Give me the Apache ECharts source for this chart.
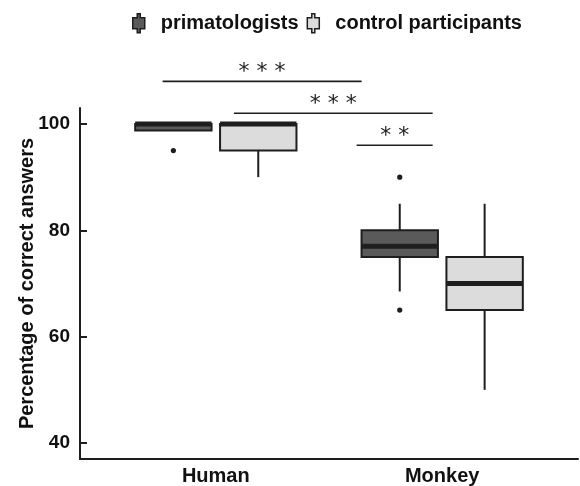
<!DOCTYPE html>
<html>
<head>
<meta charset="utf-8">
<script src="https://cdn.jsdelivr.net/npm/echarts@6/dist/echarts.min.js"></script>
<style>
  html, body { margin: 0; padding: 0; background: #fff; }
  #chart { width: 580px; height: 486px; }
</style>
</head>
<body>
<div id="chart"></div>
<script>
// categories on the x axis
var categories = ['Human', 'Monkey'];
var groups = ['primatologists', 'control participants'];
// [lower whisker, Q1, median, Q3, upper whisker] per category
var primatologistBoxes = [[98.75, 98.75, 100, 100, 100], [68.5, 75, 77, 80, 85]];
var controlBoxes = [[90, 95, 100, 100, 100], [50, 65, 70, 75, 85]];
// outliers: [category index, value]
var primatologistOutliers = [[0, 95], [1, 90], [1, 65]];
var controlOutliers = [];
var yTicks = [40, 60, 80, 100];
// significance bars: [from, to, level] in axis units
var sigBars = [[0.765, 1.644, 108], [1.08, 1.958, 102], [1.622, 1.958, 96]];
var sigLabels = ['* * *', '* * *', '* *'];

var colors = ['#5a5a5a', '#dcdcdc'];
var ink = '#1e1e1e';
var font = '"Liberation Sans", Arial, sans-serif';

var dodge = [-0.1875, 0.1875];
var halfBox = 0.16875;

function boxRenderer(offset, fill) {
    return function (params, api) {
        var x = api.value(0);
        var bw = api.size([1, 0])[0];
        var cx = api.coord([x, 0])[0] + offset * bw;
        var hw = halfBox * bw;
        var yMin = api.coord([x, api.value(1)])[1];
        var yQ1 = api.coord([x, api.value(2)])[1];
        var yMed = api.coord([x, api.value(3)])[1];
        var yQ3 = api.coord([x, api.value(4)])[1];
        var yMax = api.coord([x, api.value(5)])[1];
        var line = { stroke: ink, lineWidth: 2 };
        return {
            type: 'group',
            children: [
                { type: 'line', shape: { x1: cx, y1: yMax, x2: cx, y2: yQ3 }, style: line },
                { type: 'line', shape: { x1: cx, y1: yQ1, x2: cx, y2: yMin }, style: line },
                { type: 'rect', shape: { x: cx - hw, y: yQ3, width: hw * 2, height: yQ1 - yQ3 },
                  style: { fill: fill, stroke: ink, lineWidth: 2 } },
                { type: 'line', shape: { x1: cx - hw, y1: yMed, x2: cx + hw, y2: yMed },
                  style: { stroke: ink, lineWidth: 5 } }
            ]
        };
    };
}

function outlierRenderer(offset) {
    return function (params, api) {
        var x = api.value(0);
        var bw = api.size([1, 0])[0];
        var p = api.coord([x, api.value(1)]);
        return {
            type: 'circle',
            shape: { cx: p[0] + offset * bw, cy: p[1], r: 2.6 },
            style: { fill: ink }
        };
    };
}

function boxData(boxes) {
    return boxes.map(function (b, i) { return [i + 1].concat(b); });
}
function outlierData(list) {
    return list.map(function (o) { return [o[0] + 1, o[1]]; });
}

var chart = echarts.init(document.getElementById('chart'));
chart.setOption({
    animation: false,
    legend: {
        data: groups,
        left: 127,
        top: 8,
        itemWidth: 12,
        itemHeight: 19,
        itemGap: 8,
        icon: 'path://M4.5,0 L7.5,0 L7.5,4 L12,4 L12,15 L7.5,15 L7.5,19 L4.5,19 L4.5,15 L0,15 L0,4 L4.5,4 Z',
        itemStyle: { borderColor: ink, borderWidth: 1.5 },
        textStyle: { fontFamily: font, fontWeight: 'bold', fontSize: 20, color: '#111', padding: [0, 0, 0, 11] }
    },
    grid: { left: 80, right: 2, top: 108, bottom: 27 },
    xAxis: {
        type: 'value',
        min: 0.4,
        max: 2.6,
        axisLine: { show: true, lineStyle: { color: ink, width: 2 } },
        axisTick: { show: false },
        splitLine: { show: false },
        axisLabel: {
            customValues: [1, 2],
            formatter: function (v) { return categories[Math.round(v) - 1]; },
            margin: 7,
            fontFamily: font, fontWeight: 'bold', fontSize: 20, color: '#111'
        }
    },
    yAxis: {
        type: 'value',
        min: 37,
        max: 103,
        name: 'Percentage of correct answers',
        nameLocation: 'middle',
        nameGap: 43,
        nameMoveOverlap: false,
        nameTextStyle: { fontFamily: font, fontWeight: 'bold', fontSize: 20, color: '#111' },
        axisLine: { show: true, lineStyle: { color: ink, width: 2 } },
        axisTick: { show: true, inside: true, length: 7, customValues: yTicks, lineStyle: { color: ink, width: 2 } },
        splitLine: { show: false },
        axisLabel: {
            customValues: yTicks,
            margin: 10,
            fontFamily: font, fontWeight: 'bold', fontSize: 19, color: '#111'
        }
    },
    series: [
        {
            name: groups[0], type: 'custom',
            itemStyle: { color: colors[0] },
            renderItem: boxRenderer(dodge[0], colors[0]),
            encode: { x: 0, y: [1, 2, 3, 4, 5] },
            data: boxData(primatologistBoxes)
        },
        {
            name: groups[1], type: 'custom',
            itemStyle: { color: colors[1] },
            renderItem: boxRenderer(dodge[1], colors[1]),
            encode: { x: 0, y: [1, 2, 3, 4, 5] },
            data: boxData(controlBoxes)
        },
        {
            name: groups[0], type: 'custom',
            itemStyle: { color: colors[0] },
            renderItem: outlierRenderer(dodge[0]),
            encode: { x: 0, y: 1 },
            data: outlierData(primatologistOutliers)
        },
        {
            name: groups[1], type: 'custom',
            itemStyle: { color: colors[1] },
            renderItem: outlierRenderer(dodge[1]),
            encode: { x: 0, y: 1 },
            data: outlierData(controlOutliers)
        },
        {
            name: 'significance', type: 'custom',
            clip: false,
            renderItem: function (params, api) {
                var a = api.coord([api.value(0), api.value(2)]);
                var b = api.coord([api.value(1), api.value(2)]);
                return {
                    type: 'group',
                    children: [
                        { type: 'line', shape: { x1: a[0], y1: a[1], x2: b[0], y2: b[1] },
                          style: { stroke: ink, lineWidth: 1.6 } },
                        { type: 'text',
                          style: { x: (a[0] + b[0]) / 2, y: a[1] + 2, text: sigLabels[params.dataIndex],
                                   align: 'center', verticalAlign: 'bottom',
                                   font: '22px "DejaVu Sans", sans-serif', fill: '#222' } }
                    ]
                };
            },
            encode: { x: [0, 1], y: 2 },
            data: sigBars
        }
    ]
});
</script>
</body>
</html>
